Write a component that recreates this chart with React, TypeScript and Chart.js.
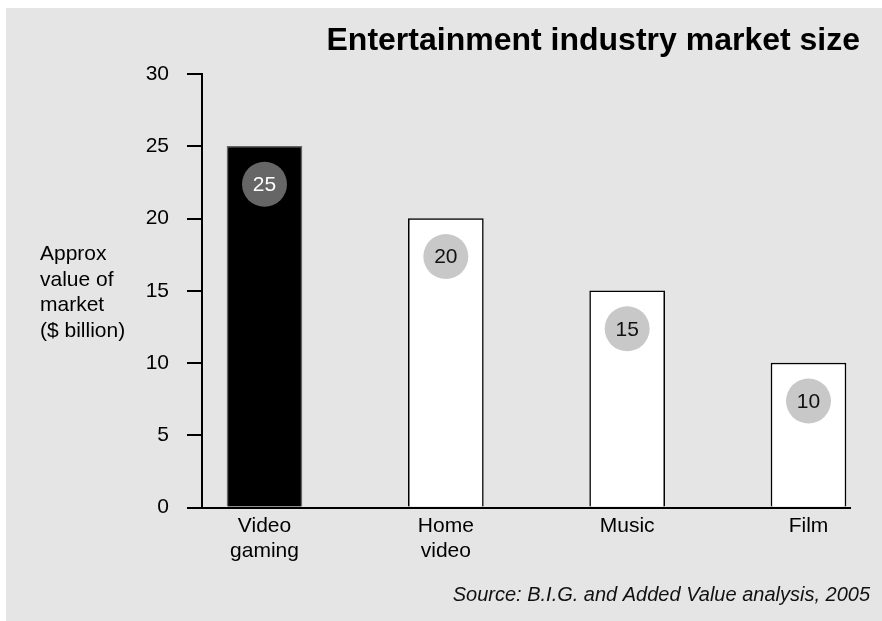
import React, { useEffect, useRef } from "react";
import { Chart, registerables } from "chart.js";

Chart.register(...registerables);

// ---- data ----
const categories: string[][] = [["Video", "gaming"], ["Home", "video"], ["Music"], ["Film"]];
const marketValues: number[] = [25, 20, 15, 10];
const yTicks: number[] = [0, 5, 10, 15, 20, 25, 30];
const titleText = "Entertainment industry market size";
const sourceText = "Source: B.I.G. and Added Value analysis, 2005";
const yAxisLabel: string[] = ["Approx", "value of", "market", "($ billion)"];

const FONT = "'Liberation Sans', Arial, Helvetica, sans-serif";

const decorPlugin = {
  id: "decor",
  beforeDraw(chart: any) {
    const ctx = chart.ctx;
    ctx.save();
    ctx.fillStyle = "#ffffff";
    ctx.fillRect(0, 0, chart.width, chart.height);
    ctx.fillStyle = "#e5e5e5";
    ctx.fillRect(6, 8, chart.width - 6, chart.height - 8);
    ctx.restore();
  },
  afterDatasetsDraw(chart: any) {
    const ctx = chart.ctx;
    const meta = chart.getDatasetMeta(0);
    ctx.save();
    meta.data.forEach((bar: any, i: number) => {
      const cx = bar.x;
      const cy = bar.y + 38;
      ctx.beginPath();
      ctx.arc(cx, cy, 22.5, 0, Math.PI * 2);
      ctx.fillStyle = i === 0 ? "#666666" : "#c8c8c8";
      ctx.fill();
      ctx.fillStyle = i === 0 ? "#ffffff" : "#111111";
      ctx.font = `21px ${FONT}`;
      ctx.textAlign = "center";
      ctx.textBaseline = "middle";
      ctx.fillText(String(marketValues[i]), cx, cy + 1);
    });
    ctx.restore();
  },
  afterDraw(chart: any) {
    const ctx = chart.ctx;
    ctx.save();
    ctx.fillStyle = "#000000";
    ctx.textBaseline = "alphabetic";
    ctx.textAlign = "right";
    ctx.font = `bold 32px ${FONT}`;
    ctx.fillText(titleText, 860, 50);
    ctx.font = `italic 20px ${FONT}`;
    ctx.fillStyle = "#111111";
    ctx.fillText(sourceText, 870, 601);
    ctx.textAlign = "left";
    ctx.font = `21px ${FONT}`;
    ctx.fillStyle = "#000000";
    yAxisLabel.forEach((line, i) => {
      ctx.fillText(line, 40, 260 + i * 25.5);
    });
    ctx.restore();
  },
};

export default function App() {
  const canvasRef = useRef<HTMLCanvasElement | null>(null);

  useEffect(() => {
    if (!canvasRef.current) return;
    const chart = new Chart(canvasRef.current, {
      type: "bar",
      data: {
        datasets: [
          {
            data: marketValues.map((v, i) => ({ x: i, y: v })),
            backgroundColor: marketValues.map((_, i) => (i === 0 ? "#000000" : "#ffffff")),
            borderColor: marketValues.map((_, i) => (i === 0 ? "#666666" : "#000000")),
            borderWidth: 1.5,
            barThickness: 75,
          },
        ],
      },
      options: {
        responsive: false,
        animation: false,
        devicePixelRatio: 1,
        layout: { padding: { top: 74, left: 0, right: 32, bottom: 0 } },
        plugins: {
          legend: { display: false },
          tooltip: { enabled: false },
          title: { display: false },
        },
        scales: {
          x: {
            type: "linear",
            min: -0.3447,
            max: 3.2289,
            offset: false,
            grid: { display: false, drawTicks: false },
            border: { display: true, color: "#000000", width: 2 },
            afterBuildTicks: (scale: any) => {
              scale.ticks = categories.map((_, i) => ({ value: i }));
            },
            afterFit: (scale: any) => {
              scale.height = 113.5;
            },
            ticks: {
              autoSkip: false,
              maxRotation: 0,
              minRotation: 0,
              padding: 6,
              color: "#000000",
              font: { family: FONT, size: 21 },
              callback: (value: any) => categories[value as number] ?? "",
            },
          },
          y: {
            min: 0,
            max: 30,
            afterBuildTicks: (scale: any) => {
              scale.ticks = yTicks.map((v) => ({ value: v }));
            },
            afterFit: (scale: any) => {
              scale.width = 202;
            },
            grid: {
              display: true,
              drawOnChartArea: false,
              drawTicks: true,
              tickLength: 15,
              color: "#000000",
              lineWidth: 2,
            },
            border: { display: true, color: "#000000", width: 2 },
            ticks: {
              padding: 18,
              color: "#000000",
              font: { family: FONT, size: 21 },
            },
          },
        },
      },
      plugins: [decorPlugin],
    });
    return () => chart.destroy();
  }, []);

  return (
    <div style={{ position: "fixed", left: 0, top: 0, width: 882, height: 621 }}>
      <canvas ref={canvasRef} width={882} height={621} style={{ width: 882, height: 621, display: "block" }} />
    </div>
  );
}
